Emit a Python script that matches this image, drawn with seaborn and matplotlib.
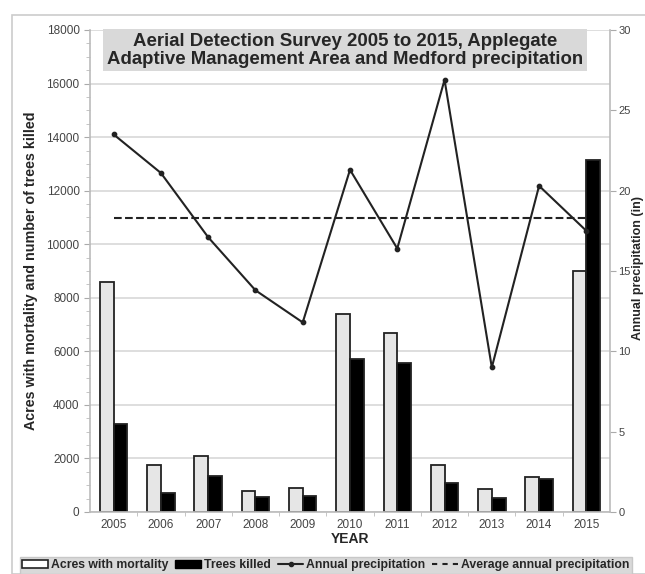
import matplotlib
matplotlib.use('Agg')
import matplotlib.pyplot as plt
import matplotlib.patches as mpatches
from matplotlib.lines import Line2D
from matplotlib.ticker import MultipleLocator
import seaborn as sns
import pandas as pd

years = ['2005', '2006', '2007', '2008', '2009', '2010', '2011', '2012', '2013', '2014', '2015']
acres_mortality = [8600, 1750, 2100, 800, 880, 7400, 6700, 1750, 850, 1300, 9000]
trees_killed = [3300, 700, 1350, 550, 600, 5700, 5550, 1080, 520, 1250, 13150]
annual_precip = [23.5, 21.1, 17.1, 13.8, 11.8, 21.3, 16.4, 26.9, 9.0, 20.3, 17.5]
avg_precip = 18.3

sns.set_style('white')
plt.rcParams['font.family'] = ['Liberation Sans', 'DejaVu Sans']

df = pd.DataFrame({'Year': years, 'Acres with mortality': acres_mortality, 'Trees killed': trees_killed})
df_melt = df.melt(id_vars='Year', var_name='Serie', value_name='Valor')

fig = plt.figure(figsize=(6.45, 5.74), dpi=100)
ax = fig.add_axes([90/645, 1-512/574, 520/645, 482/574])

# barras: acres y arboles muertos
sns.barplot(data=df_melt, x='Year', y='Valor', hue='Serie',
            palette={'Acres with mortality': '#e6e6e6', 'Trees killed': '#000000'},
            width=0.58, edgecolor='#222222', linewidth=1.3, legend=False, ax=ax)

ax.set_ylim(0, 18000)
ax.set_xlim(-0.5, 10.5)
ax.yaxis.set_major_locator(MultipleLocator(2000))
ax.yaxis.set_minor_locator(MultipleLocator(500))
ax.grid(axis='y', color='#d8d8d8', linewidth=1.2)
ax.set_axisbelow(True)
ax.tick_params(axis='y', which='major', length=4, color='#aaaaaa', labelsize=8.5, labelcolor='#444444', left=True)
ax.tick_params(axis='y', which='minor', length=3, color='#bbbbbb', left=True)
ax.tick_params(axis='x', length=0, labelsize=8.5, labelcolor='#444444', pad=5)
ax.set_xticks(range(len(years)))
ax.set_xticks([i + 0.5 for i in range(len(years) - 1)], minor=True)
ax.tick_params(axis='x', which='minor', length=3, color='#bbbbbb', bottom=True)
ax.set_xlabel('YEAR', fontsize=10, fontweight='bold', labelpad=1)
ax.set_ylabel('Acres with mortality and number of trees killed', fontsize=10.3, fontweight='bold', labelpad=6)
for side in ['left', 'bottom']:
    ax.spines[side].set_color('#bbbbbb')
    ax.spines[side].set_linewidth(1.2)
ax.spines['top'].set_visible(False)
ax.spines['right'].set_visible(False)

# precipitacion en eje secundario
ax2 = ax.twinx()
sns.pointplot(x=years, y=annual_precip, ax=ax2, color='#222222', markers='o',
              markersize=3, linewidth=1.5)
sns.pointplot(x=years, y=[avg_precip] * len(years), ax=ax2, color='#222222',
              markers='', linestyles='--', linewidth=1.5)
for l in ax2.lines[-1:]:
    l.set_dashes([4, 2.7])
ax2.set_xlim(-0.5, 10.5)
ax2.set_ylim(0, 30)
ax2.yaxis.set_major_locator(MultipleLocator(5))
ax2.tick_params(axis='y', length=4, color='#aaaaaa', labelsize=8, labelcolor='#444444', right=True, pad=2)
ax2.set_ylabel('')
for side in ['top', 'left', 'bottom']:
    ax2.spines[side].set_visible(False)
ax2.spines['right'].set_color('#bbbbbb')
ax2.spines['right'].set_linewidth(1.2)

fig.text(638/645, 1-268/574, 'Annual precipitation (in)', rotation=90, ha='center', va='center',
         fontsize=9, fontweight='bold')

ax.text(0.49, 0.958, 'Aerial Detection Survey 2005 to 2015, Applegate\nAdaptive Management Area and Medford precipitation',
        transform=ax.transAxes, ha='center', va='center', fontsize=13.4, fontweight='bold',
        linespacing=1.05, zorder=5,
        bbox=dict(boxstyle='square,pad=0.2', facecolor='#d9d9d9', edgecolor='none'))

fig.patches.append(mpatches.Rectangle((12/645, 0), 640/645, 1-15/574, transform=fig.transFigure,
                                      facecolor='none', edgecolor='#cccccc', linewidth=1.2))

handles = [
    mpatches.Patch(facecolor='#ffffff', edgecolor='#222222', linewidth=1.2),
    mpatches.Patch(facecolor='#000000', edgecolor='#000000'),
    Line2D([], [], color='#222222', marker='o', markersize=3, linewidth=1.5),
    Line2D([], [], color='#222222', linestyle='--', dashes=[2.5, 2.5], linewidth=1.5),
]
labels = ['Acres with mortality', 'Trees killed', 'Annual precipitation', 'Average annual precipitation']
leg = fig.legend(handles, labels, loc='upper left', bbox_to_anchor=(20/645, 1-557/574), ncol=4,
                 frameon=True, facecolor='#d9d9d9', edgecolor='#c8c8c8', fancybox=False,
                 prop={'size': 8.8, 'weight': 'bold'}, handlelength=2.1, handleheight=0.6,
                 handletextpad=0.25, columnspacing=0.55, borderpad=0.2, borderaxespad=0)
leg.get_frame().set_alpha(1)

fig.savefig('out.png', dpi=100)
